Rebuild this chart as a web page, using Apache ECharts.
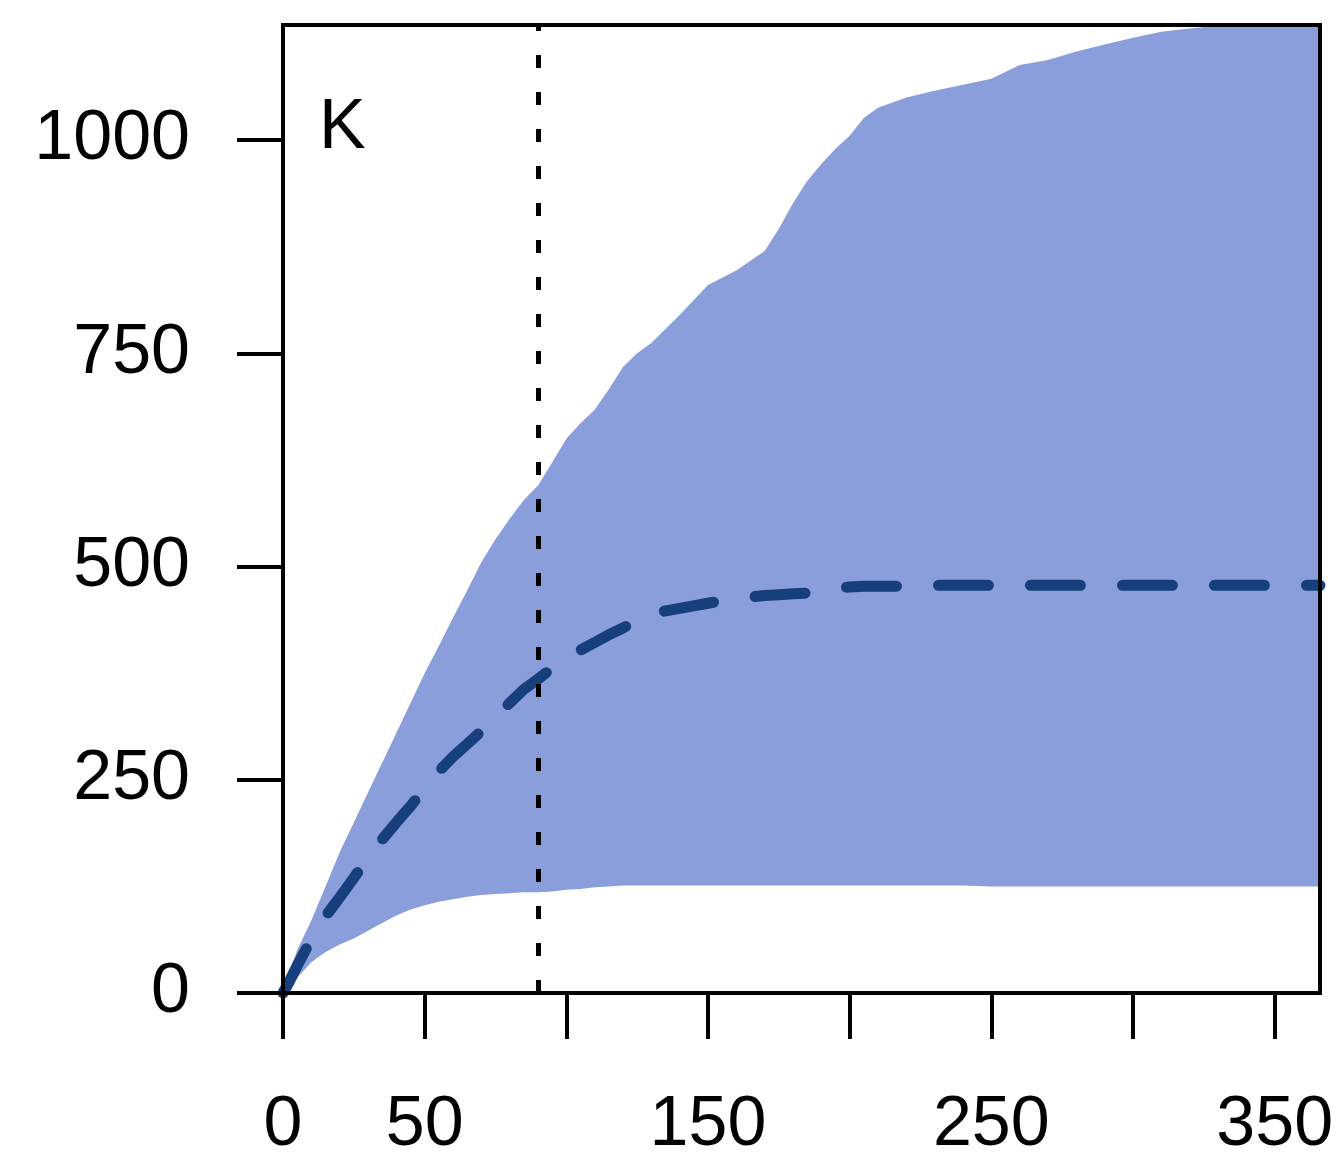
<!DOCTYPE html>
<html>
<head>
<meta charset="utf-8">
<script src="https://cdn.jsdelivr.net/npm/echarts@6/dist/echarts.min.js"></script>
<style>
html,body{margin:0;padding:0;background:#fff;}
#chart{width:1341px;height:1172px;}
</style>
</head>
<body>
<div id="chart"></div>
<script>
// x positions (days)
var xs = [0, 2, 5, 10, 15, 20, 25, 30, 35, 40, 45, 50, 55, 60, 65, 70, 75, 80, 85, 90, 95, 100, 105, 110, 115, 120, 125, 130, 140, 150, 160, 170, 175, 180, 185, 190, 195, 200, 205, 210, 220, 230, 240, 250, 260, 270, 280, 290, 300, 310, 320, 330, 340, 350, 360, 366];
// upper bound of band
var upper = [0, 22, 50, 85, 125, 165, 200, 235, 270, 305, 340, 375, 407, 440, 472, 505, 532, 556, 578, 595, 622, 650, 668, 684, 708, 734, 750, 762, 795, 830, 847, 870, 896, 926, 952, 972, 990, 1005, 1026, 1038, 1050, 1058, 1065, 1072, 1088, 1094, 1104, 1112, 1120, 1127, 1131, 1134, 1138, 1140, 1140, 1140];
// lower bound of band
var lower = [0, 6, 18, 36, 48, 57, 64, 73, 82, 91, 98, 103, 107, 110, 113, 115, 116, 117, 118, 118, 119, 121, 122, 124, 125, 126, 126, 126, 126, 126, 126, 126, 126, 126, 126, 126, 126, 126, 126, 126, 126, 126, 126, 125, 125, 125, 125, 125, 125, 125, 125, 125, 125, 125, 125, 125];
// mean curve
var mean = [0, 12, 32, 63, 90, 112, 135, 158, 180, 200, 219, 240, 260, 277, 292, 307, 324, 340, 356, 368, 381, 393, 402, 411, 420, 428, 437, 445, 451, 457, 463, 466, 467, 468, 469, 472, 475, 476, 477, 477, 477, 478, 478, 478, 478, 478, 478, 478, 478, 478, 478, 478, 478, 478, 478, 478];
var vline = 90;
var xTicks = [0, 50, 100, 150, 200, 250, 300, 350];
var xLabels = [0, 50, 150, 250, 350];
var yTicks = [0, 250, 500, 750, 1000];
var panelLabel = 'K';

var X_MAX = 366, Y_MAX = 1135;
var meanData = xs.map(function (x, i) { return [x, mean[i]]; });
var bandData = xs.map(function (x, i) { return [x, lower[i], upper[i]]; });

var FONT = 'Liberation Sans, Arial, Helvetica, sans-serif';
var chart = echarts.init(document.getElementById('chart'), null, {renderer: 'canvas'});
chart.setOption({
  animation: false,
  backgroundColor: '#ffffff',
  title: {
    text: panelLabel,
    left: 314,
    top: 89,
    textStyle: {fontFamily: FONT, fontSize: 70, fontWeight: 'normal', color: '#000'}
  },
  grid: {
    left: 283, right: 21, top: 25, bottom: 179, z: 5,
    show: true, borderColor: '#000', borderWidth: 4, backgroundColor: 'transparent'
  },
  xAxis: {
    type: 'value', min: 0, max: X_MAX, z: 5,
    splitLine: {show: false},
    axisLine: {show: true, onZero: false, lineStyle: {color: '#000', width: 4}},
    axisTick: {show: true, inside: false, length: 46, customValues: xTicks, lineStyle: {color: '#000', width: 4}},
    axisLabel: {show: true, customValues: xLabels, margin: 98, fontFamily: FONT, fontSize: 70, color: '#000',
      formatter: function (v) { return String(v); }}
  },
  yAxis: {
    type: 'value', min: 0, max: Y_MAX, z: 5,
    splitLine: {show: false},
    axisLine: {show: true, onZero: false, lineStyle: {color: '#000', width: 4}},
    axisTick: {show: true, inside: false, length: 46, customValues: yTicks, lineStyle: {color: '#000', width: 4}},
    axisLabel: {show: true, customValues: yTicks, margin: 93, fontFamily: FONT, fontSize: 70, color: '#000',
      formatter: function (v) { return String(v); }}
  },
  series: [
    {
      name: 'band', type: 'custom', data: bandData, clip: true, silent: true, z: 1,
      encode: {x: 0, y: [1, 2]},
      renderItem: function (params, api) {
        if (params.dataIndex !== 0) { return null; }
        var pts = [];
        var n = bandData.length, i;
        for (i = 0; i < n; i++) {
          pts.push(api.coord([bandData[i][0], Math.min(bandData[i][2], Y_MAX)]));
        }
        for (i = n - 1; i >= 0; i--) {
          pts.push(api.coord([bandData[i][0], bandData[i][1]]));
        }
        return {type: 'polygon', shape: {points: pts}, style: {fill: '#8A9EDB', stroke: null}};
      }
    },
    {
      name: 'mean', type: 'line', data: meanData, symbol: 'none', smooth: false,
      lineStyle: {color: '#173F7D', width: 11, type: [50, 42], cap: 'round', join: 'round'},
      z: 3,
      markLine: {
        silent: true, symbol: 'none', animation: false,
        label: {show: false},
        lineStyle: {color: '#000', width: 5, type: [13, 24]},
        data: [{xAxis: vline}]
      }
    }
  ]
});
</script>
</body>
</html>
